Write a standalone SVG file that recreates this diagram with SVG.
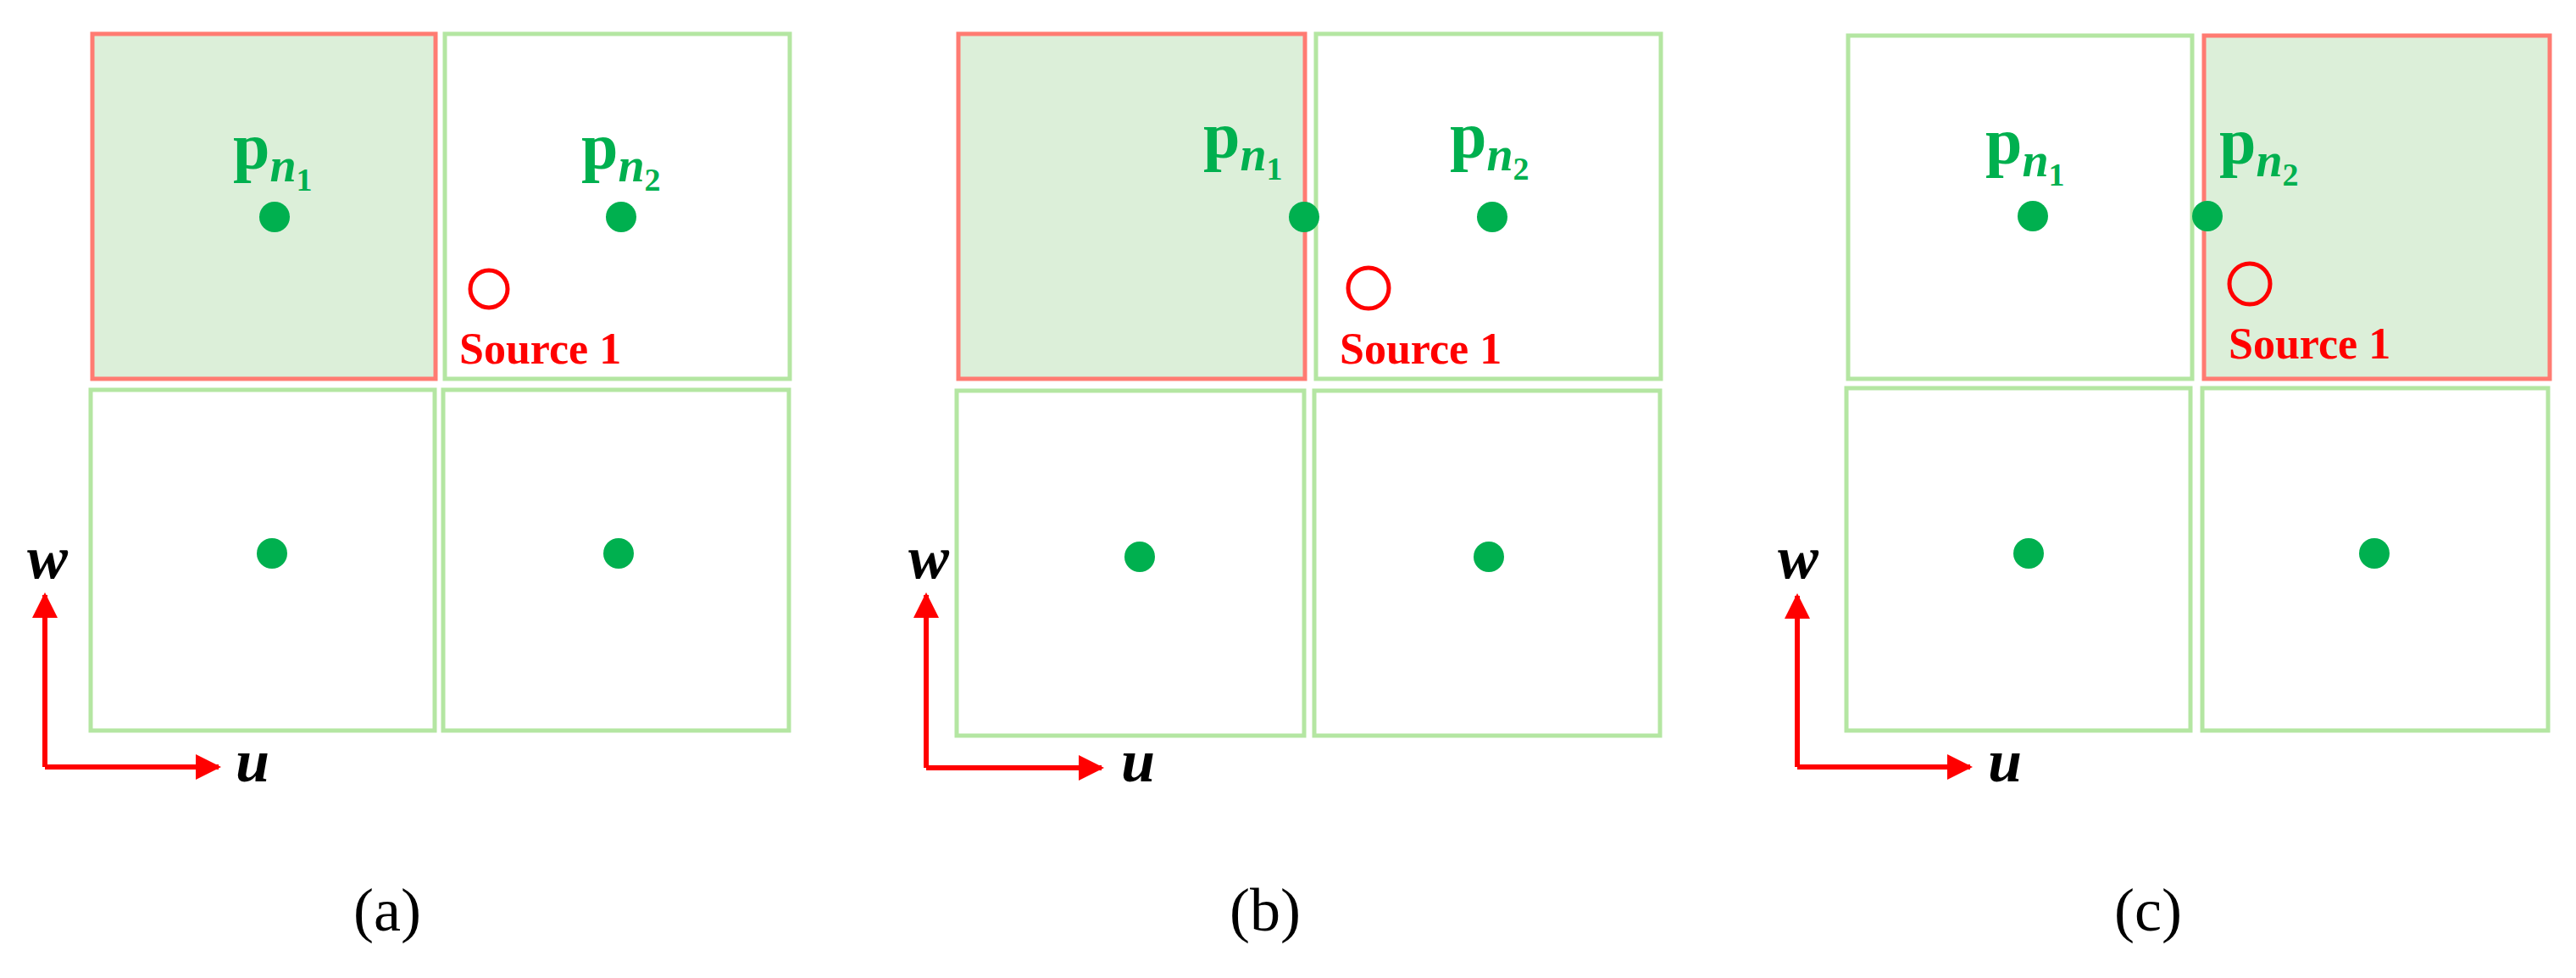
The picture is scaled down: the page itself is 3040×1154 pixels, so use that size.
<svg xmlns="http://www.w3.org/2000/svg" width="3040" height="1154" viewBox="0 0 3040 1154">
<defs>
<style>
.sel{fill:#dcefd9;stroke:#ff7b72;stroke-width:5}
.box{fill:#fff;stroke:#b4e6a2;stroke-width:5}
.dot{fill:#00b04f}
.src{fill:none;stroke:#ff0000;stroke-width:5}
.st{font-family:"Liberation Serif",serif;font-weight:bold;font-size:52px;fill:#ff0000}
.pl{font-family:"Liberation Serif",serif;font-weight:bold;font-size:78px;fill:#00b04f}
.ax{stroke:#ff0000;stroke-width:6;fill:none}
.al{font-family:"Liberation Serif",serif;font-weight:bold;font-style:italic;font-size:72px;fill:#000;text-anchor:middle}
.cap{font-family:"Liberation Serif",serif;font-size:72px;fill:#000;text-anchor:middle}
</style>
<marker id="ah" viewBox="0 0 10 10" refX="9" refY="5" markerWidth="5" markerHeight="5" markerUnits="strokeWidth" orient="auto"><path d="M0,0 L10,5 L0,10 z" fill="#ff0000"/></marker>
</defs>

<g id="panel-a">
<rect class="sel" x="109" y="40" width="405" height="407"/>
<rect class="box" x="525" y="40" width="407" height="407"/>
<rect class="box" x="107" y="460" width="406" height="402"/>
<rect class="box" x="523" y="460" width="408" height="402"/>
<circle class="dot" cx="324" cy="256" r="18"/>
<circle class="dot" cx="733" cy="256" r="18"/>
<circle class="dot" cx="321" cy="653" r="18"/>
<circle class="dot" cx="730" cy="653" r="18"/>
<circle class="src" cx="577" cy="341" r="22"/>
<text class="st" x="542" y="429">Source 1</text>
<text class="pl" x="275" y="199">p<tspan font-style="italic" font-size="56" dy="15">n</tspan><tspan font-size="38" dy="11">1</tspan></text>
<text class="pl" x="686" y="199">p<tspan font-style="italic" font-size="56" dy="15">n</tspan><tspan font-size="38" dy="11">2</tspan></text>
<text class="cap" x="457" y="1098">(a)</text>
</g>

<g id="panel-b">
<rect class="sel" x="1131" y="40" width="409" height="407"/>
<rect class="box" x="1553" y="40" width="407" height="407"/>
<rect class="box" x="1129" y="461" width="410" height="407"/>
<rect class="box" x="1551" y="461" width="408" height="407"/>
<circle class="dot" cx="1539" cy="256" r="18"/>
<circle class="dot" cx="1761" cy="256" r="18"/>
<circle class="dot" cx="1345" cy="657" r="18"/>
<circle class="dot" cx="1757" cy="657" r="18"/>
<circle class="src" cx="1615" cy="340" r="24"/>
<text class="st" x="1581" y="429">Source 1</text>
<text class="pl" x="1420" y="186">p<tspan font-style="italic" font-size="56" dy="15">n</tspan><tspan font-size="38" dy="11">1</tspan></text>
<text class="pl" x="1711" y="186">p<tspan font-style="italic" font-size="56" dy="15">n</tspan><tspan font-size="38" dy="11">2</tspan></text>
<text class="cap" x="1493" y="1098">(b)</text>
</g>

<g id="panel-c">
<rect class="box" x="2181" y="42" width="406" height="405"/>
<rect class="sel" x="2601" y="42" width="408" height="405"/>
<rect class="box" x="2179" y="458" width="406" height="404"/>
<rect class="box" x="2599" y="458" width="408" height="404"/>
<circle class="dot" cx="2399" cy="255" r="18"/>
<circle class="dot" cx="2605" cy="255" r="18"/>
<circle class="dot" cx="2394" cy="653" r="18"/>
<circle class="dot" cx="2802" cy="653" r="18"/>
<circle class="src" cx="2655" cy="335" r="24"/>
<text class="st" x="2630" y="423">Source 1</text>
<text class="pl" x="2343" y="193">p<tspan font-style="italic" font-size="56" dy="15">n</tspan><tspan font-size="38" dy="11">1</tspan></text>
<text class="pl" x="2619" y="193">p<tspan font-style="italic" font-size="56" dy="15">n</tspan><tspan font-size="38" dy="11">2</tspan></text>
<text class="cap" x="2535" y="1098">(c)</text>
</g>

<g id="connectors">
<path class="ax" d="M53,905 V702" marker-end="url(#ah)"/>
<path class="ax" d="M53,905 H258" marker-end="url(#ah)"/>
<path class="ax" d="M1093,906 V702" marker-end="url(#ah)"/>
<path class="ax" d="M1093,906 H1300" marker-end="url(#ah)"/>
<path class="ax" d="M2121,905 V703" marker-end="url(#ah)"/>
<path class="ax" d="M2121,905 H2325" marker-end="url(#ah)"/>
</g>
<g id="axis-labels">
<text class="al" x="56" y="682">w</text>
<text class="al" x="298" y="922">u</text>
<text class="al" x="1096" y="682">w</text>
<text class="al" x="1343" y="922">u</text>
<text class="al" x="2122" y="682">w</text>
<text class="al" x="2366" y="922">u</text>
</g>
</svg>
